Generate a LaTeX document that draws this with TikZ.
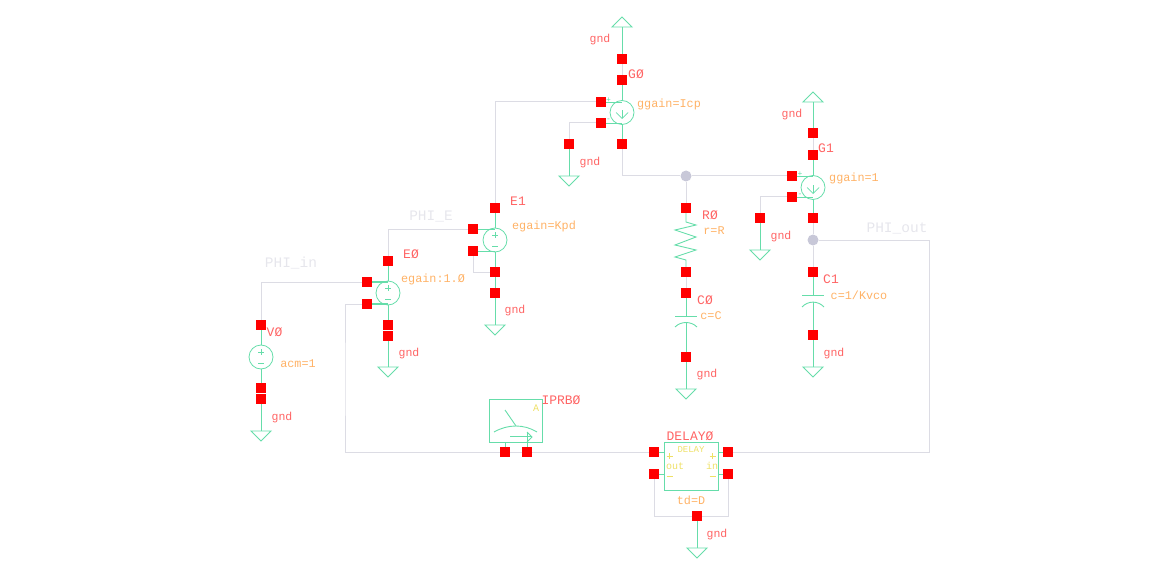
\documentclass[tikz,border=0pt]{standalone}
\usepackage{fontspec}
\setmainfont{Liberation Mono}
\definecolor{symg}{HTML}{66DDAA}
\definecolor{wireg}{HTML}{DCDCE4}
\definecolor{dotg}{HTML}{C8C8D8}
\definecolor{pinr}{HTML}{FF0000}
\definecolor{namer}{HTML}{FF6464}
\definecolor{paramo}{HTML}{FFB266}
\definecolor{yel}{HTML}{EEE066}
\definecolor{netg}{HTML}{E6E6EC}
\tikzset{
  pinbox/.style={rectangle,fill=pinr,draw=none,minimum size=10pt,inner sep=0pt},
  junc/.style={circle,fill=dotg,draw=none,minimum size=11pt,inner sep=0pt},
  srcv/.style={circle,draw=symg,line width=.8pt,minimum size=24pt,inner sep=0pt},
  box/.style={rectangle,draw=symg,line width=1pt,inner sep=0pt},
  sym/.style={draw=symg,line width=.9pt},
  wire/.style={draw=wireg,line width=1pt},
  polar/.style={draw=yel,line width=.9pt},
  nm/.style={text=namer,font=\fontsize{13}{13}\selectfont,inner sep=0pt},
  gl/.style={text=namer,font=\fontsize{11.5}{11.5}\selectfont,inner sep=0pt},
  par/.style={text=paramo,font=\fontsize{11.8}{11.8}\selectfont,inner sep=0pt},
  net/.style={text=netg,font=\fontsize{14.5}{14.5}\selectfont,inner sep=0pt},
  tiny/.style={text=yel,font=\fontsize{9}{9}\selectfont,inner sep=0pt},
  small/.style={text=symg,font=\fontsize{8}{8}\selectfont,inner sep=0pt},
}
\begin{document}
\begin{tikzpicture}[x=1pt,y=-1pt]
\useasboundingbox (0,0) rectangle (1172,572);
% ground references
\foreach \n/\x/\y in {tg0/622/27,tg1/813/102}
  \draw[sym] (\x,\y) coordinate (\n) -- ++(-10,0) -- ++(10,-10) -- ++(10,10) -- cycle;
\foreach \n/\x/\y in {dg0/569/176,dg1/760/250,dc1/813/367,dc0/686/389,de1/495/325,de0/388/367,dv0/261/431,dd0/697/548}
  \draw[sym] (\x,\y) coordinate (\n) -- ++(-10,0) -- ++(10,10) -- ++(10,-10) -- cycle;
% sources
\node[srcv] (sG0) at (622,112.5) {};
\node[srcv] (sG1) at (813,187.5) {};
\node[srcv] (sE1) at (495,240) {};
\node[srcv] (sE0) at (388,293) {};
\node[srcv] (sV0) at (261,357) {};
% boxes
\node[box,minimum width=53pt,minimum height=43pt] (bI) at (515.5,420.5) {};
\node[box,minimum width=54pt,minimum height=48pt] (bD) at (691,466) {};
% pins
\foreach \n/\x/\y in {g0a/622/59,g0b/622/80,g0p/601/102,g0m/601/123,g0o/622/144,g0g/569/144,
  g1a/813/133,g1b/813/155,g1p/792/176,g1m/792/197,g1o/813/218,g1g/760/218,
  r0a/686/208,r0b/686/272,c0a/686/293,c0b/686/357,c1a/813/272,c1b/813/335,
  e1a/495/208,e1p/473/229,e1m/473/251,e1o/495/272,e1g/495/293,
  e0a/388/261,e0p/367/282,e0m/367/304,e0o/388/325,e0g/388/336,
  v0a/261/325,v0b/261/388,v0g/261/399,
  ia/505/452,ib/527/452,
  dop/654/452,dom/654/474,dip/728/452,dim/728/474,dgn/697/516}
  \node[pinbox] (\n) at (\x,\y) {};
% junctions
\node[junc] (j1) at (686,176) {};
\node[junc] (j2) at (813,240) {};
% green device leads
\draw[sym] (tg0) -- (g0a); \draw[sym] (g0b) -- (sG0); \draw[sym] (sG0) -- (g0o);
\draw[sym] (g0p.east) -- (g0p.east -| sG0.center); \draw[sym] (g0m.east) -- (g0m.east -| sG0.center);
\draw[sym] (tg1) -- (g1a); \draw[sym] (g1b) -- (sG1); \draw[sym] (sG1) -- (g1o);
\draw[sym] (g1p.east) -- (g1p.east -| sG1.center); \draw[sym] (g1m.east) -- (g1m.east -| sG1.center);
\draw[sym] (g0g) -- (dg0); \draw[sym] (g1g) -- (dg1);
\draw[sym] (e1a) -- (sE1); \draw[sym] (sE1) -- (e1o); \draw[sym] (e1o) -- (e1g); \draw[sym] (e1g) -- (de1);
\draw[sym] (e1p.east) -- (e1p.east -| sE1.center); \draw[sym] (e1m.east) -- (e1m.east -| sE1.center);
\draw[sym] (e0a) -- (sE0); \draw[sym] (sE0) -- (e0o); \draw[sym] (e0g) -- (de0);
\draw[sym,line width=1.2pt] (e0p.east) -- (e0p.east -| sE0.center); \draw[sym,line width=1.2pt] (e0m.east) -- (e0m.east -| sE0.center);
\draw[sym] (v0a) -- (sV0); \draw[sym] (sV0) -- (v0b); \draw[sym] (v0g) -- (dv0);
\draw[sym] (dgn) -- (dd0);
\draw[sym] (dop) -- (dop -| bD.west); \draw[sym] (dom) -- (dom -| bD.west);
\draw[sym] (dip) -- (dip -| bD.east); \draw[sym] (dim) -- (dim -| bD.east);
% resistor
\draw[sym] (r0a) -- (686,222) -- (696,225) -- (675,230) -- (696,237) -- (675,245) -- (696,250) -- (675,257) -- (686,260) -- (r0b);
% capacitors
\draw[sym] (c0a) -- (686,316); \draw[sym] (675,316) -- (697,316);
\draw[sym] (675,327) .. controls (681,321) and (691,321) .. (697,327);
\draw[sym] (686,322) -- (c0b); \draw[sym] (c0b) -- (dc0);
\draw[sym] (c1a) -- (813,295.5); \draw[sym] (802,295.5) -- (824,295.5);
\draw[sym] (802,307) .. controls (808,300.5) and (818,300.5) .. (824,307);
\draw[sym] (813,301.5) -- (c1b); \draw[sym] (c1b) -- (dc1);
% current arrows inside sources
\foreach \c in {sG0,sG1}{
  \draw[sym,line width=.7pt] (\c.center) ++(0,-2) -- ++(0,8);
  \draw[sym,line width=.7pt] (\c.center) ++(-6,0) -- ++(6,6) -- ++(6,-6);
}
% plus and minus in voltage sources
\foreach \c in {sE1,sE0,sV0}{
  \draw[sym,line width=.7pt] (\c.center) ++(-3,-5) -- ++(6,0);
  \draw[sym,line width=.7pt] (\c.center) ++(0,-8) -- ++(0,6);
  \draw[sym,line width=.7pt] (\c.center) ++(-3,6) -- ++(6,0);
}
% ammeter
\draw[sym] (ia) -- (ia |- bI.south);
\draw[sym] (ib) -- (527,432);
\draw[sym] (505,410) -- (516,426);
\draw[sym] (494,432) .. controls (508,424) and (524,424) .. (537,432);
\draw[sym] (510,436.5) -- (531,436.5);
\draw[sym] (527,432) -- (532,437) -- (527,442);
% grey wires
\draw[wire] (g0p) -| (e1a);
\draw[wire] (g0m) -| (g0g);
\draw[wire] (g0o) |- (j1);
\draw[wire] (j1) -- (g1p);
\draw[wire] (j1) -- (r0a);
\draw[wire] (g1m) -| (g1g);
\draw[wire] (g1o) -- (j2);
\draw[wire] (j2) -- (c1a);
\draw[wire] (g0a) -- (g0b);
\draw[wire] (g1a) -- (g1b);
\draw[wire] (e1p) -| (e0a);
\draw[wire] (e1m) |- (e1o);
\draw[wire] (e0p) -| (v0a);
\draw[wire] (e0m) -| (345,380) |- (ia);
\draw[wire] (ia) -- (ib);
\draw[wire] (ib) -- (dop);
\draw[wire] (r0b) -- (c0a);
\draw[wire] (j2) -| (929,350) |- (dip);
\draw[wire] (dom) |- (dgn);
\draw[wire] (dim) |- (dgn);
% instance names
\node[gl] (l1) at (600,40) {gnd};
\node[nm] (l2) at (636,74) {GØ};
\node[par] (l3) at (669,104) {ggain=Icp};
\node[gl] (l4) at (590,163) {gnd};
\node[gl] (l5) at (792,115) {gnd};
\node[nm] (l6) at (826,148) {G1};
\node[par] (l7) at (854,178) {ggain=1};
\node[gl] (l8) at (781,237) {gnd};
\node[net] (l9) at (897,228) {PHI\_out};
\node[nm] (l10) at (710,215) {RØ};
\node[par] (l11) at (714,231) {r=R};
\node[nm] (l12) at (705,300) {CØ};
\node[par] (l13) at (711,316) {c=C};
\node[gl] (l14) at (707,375) {gnd};
\node[nm] (l15) at (831,279) {C1};
\node[par] (l16) at (859,295) {c=1/Kvco};
\node[gl] (l17) at (834,354) {gnd};
\node[nm] (l18) at (518,201) {E1};
\node[par] (l19) at (544,226) {egain=Kpd};
\node[gl] (l20) at (515,311) {gnd};
\node[net] (l21) at (431,217) {PHI\_E};
\node[nm] (l22) at (411,254) {EØ};
\node[par] (l23) at (433,279) {egain:1.Ø};
\node[gl] (l24) at (409,354) {gnd};
\node[net] (l25) at (291,263) {PHI\_in};
\node[nm] (l26) at (274.5,332) {VØ};
\node[par] (l27) at (298,364) {acm=1};
\node[gl] (l28) at (282,418) {gnd};
\node[nm] (l29) at (561,400) {IPRBØ};
\node[nm] (l30) at (690,436) {DELAYØ};
\node[par] (l31) at (691,500) {td=D};
\node[gl] (l32) at (717,535) {gnd};
% yellow device text
\node[tiny,font=\fontsize{10}{10}\selectfont] (y0) at (536,408) {A};
\node[tiny] (y1) at (691,450) {DELAY};
\node[tiny,font=\fontsize{10}{10}\selectfont] (y3) at (675,466) {out};
\node[tiny,font=\fontsize{10}{10}\selectfont] (y6) at (712,466) {in};
\foreach \x in {669.5,712.5}{
  \draw[polar] (\x-3,456) -- (\x+3,456);
  \draw[polar] (\x,453) -- (\x,459);
  \draw[polar] (\x-3,476.5) -- (\x+3,476.5);
}
% small polarity marks
\node[small] (s1) at (608.5,100) {+};
\node[small] (s2) at (608.5,120) {-};
\node[small] (s3) at (800,174) {+};
\node[small] (s4) at (800,195) {-};
\end{tikzpicture}
\end{document}
